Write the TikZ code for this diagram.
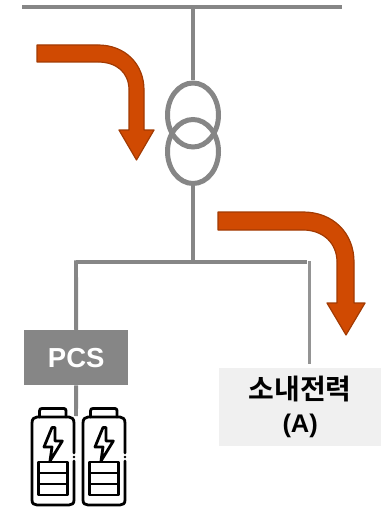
\documentclass[tikz,border=0pt]{standalone}
\usetikzlibrary{shapes.geometric}
\usepackage{fontspec}
\setmainfont{Liberation Sans}
\newfontfamily\krfont{Noto Sans CJK KR}[BoldFont={Noto Sans CJK KR Bold}]
\definecolor{linegray}{HTML}{868686}
\definecolor{flow}{HTML}{D04A02}
\definecolor{flowedge}{HTML}{A23A02}
\tikzset{
  x=1pt,y=-1pt,
  wire/.style={draw=linegray,line width=3.9pt},
  thinwire/.style={draw=black!42,line width=3pt},
  coil/.style={draw=linegray,line width=5pt,ellipse,minimum width=51pt,minimum height=64pt,inner sep=0pt},
  flowarrow/.style={fill=flow,draw=flowedge,line width=1.2pt,line join=round},
  batt/.style={draw=black,line width=2.8pt,line join=round,line cap=round},
  boxnode/.style={inner sep=0pt,anchor=north west,align=center}
}
\newcommand{\batterypic}[1]{%
  \begin{scope}[xshift=#1]
    \draw[batt] (39.5,417) -- (39.5,411) .. controls (39.5,409) and (40.5,408.5) .. (42,408.5) -- (64,408.5) .. controls (65.5,408.5) and (66,409.5) .. (66,411) -- (66,417);
    \draw[batt] (74,453) -- (74,423) .. controls (74,419) and (72,417) .. (69,417) -- (37,417) .. controls (34,417) and (32,419) .. (32,423) -- (32,500) .. controls (32,503.5) and (34,505) .. (37,505) -- (69,505) .. controls (72,505) and (74,503.5) .. (74,500) -- (74,461);
    \fill (74,457) circle (1.4);
    \draw[batt] (38.5,462) rectangle (67.5,495);
    \draw[batt] (38.5,473) -- (67.5,473) (38.5,484) -- (67.5,484);
    \draw[batt] (52,427.5) -- (44,447) -- (52,447) -- (50,461) -- (62.3,441) -- (55,441) -- (55,427.5) -- cycle;
  \end{scope}}
\begin{document}
\begin{tikzpicture}
\useasboundingbox (0,0) rectangle (381,508);
% flow arrows
\path[flowarrow] (37,45) -- (98,45) .. controls (125,45) and (144,64) .. (144,90) -- (144,130) -- (154,130) -- (136.5,160) -- (119,130) -- (129,130) -- (129,90) .. controls (129,72) and (116,62) .. (98,62) -- (37,62) -- cycle;
\path[flowarrow] (218,212) -- (303,212) .. controls (333,212) and (354,233) .. (354,262) -- (354,303) -- (365,303) -- (346,335) -- (327,303) -- (337,303) -- (337,262) .. controls (337,243) and (323,230) .. (303,230) -- (218,230) -- cycle;
% boxes
\node[boxnode,fill=linegray,text=white,minimum width=104pt,minimum height=55pt,font=\bfseries\fontsize{27.5}{30}\selectfont] (pcs) at (24,330) {PCS};
\node[boxnode,fill=black!6,minimum width=162pt,minimum height=78pt,font=\bfseries\fontsize{25.5}{33}\selectfont] (load) at (219,368) {{\krfont\bfseries\fontsize{28}{33}\selectfont 소내전력}\\(A)};
% network
\coordinate (busl) at (22,7);
\coordinate (busr) at (342,7);
\coordinate (bustap) at (193,7);
\draw[wire] (busl) -- (busr);
\node[coil] (t1) at (193,115) {};
\node[coil] (t2) at (193,151.5) {};
\coordinate (jn) at (193,262);
\coordinate (jl) at (76,262);
\coordinate (jr) at (307,262);
\coordinate (drop) at (309.5,261);
\coordinate (dropend) at (309.5,364);
\coordinate (battop) at (76,416);
\draw[wire] (bustap) -- (t1.north);
\draw[wire] (t2.south) -- (jn);
\draw[wire] (jl) -- (jr);
\draw[wire] (76,260.3) -- (pcs.north);
\draw[wire] (pcs.south) -- (battop);
\draw[thinwire] (drop) -- (dropend);
\batterypic{0pt}
\batterypic{51pt}
\end{tikzpicture}
\end{document}
